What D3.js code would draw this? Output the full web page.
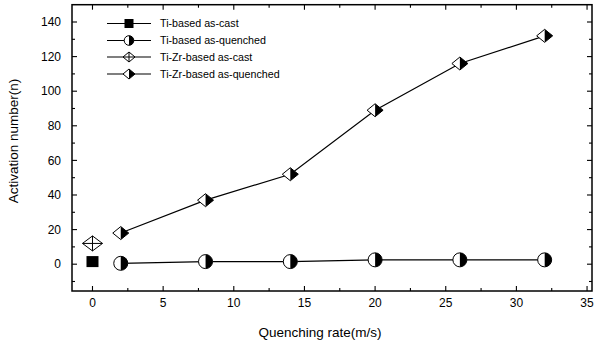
<!DOCTYPE html>
<html><head><meta charset="utf-8">
<script src="https://cdn.jsdelivr.net/npm/d3@7"></script>
<style>body{margin:0;background:#fff}svg{display:block}text{font-family:Arial,"Liberation Sans",sans-serif;fill:#000}</style>
</head><body><svg id="c" width="597" height="346"></svg>
<script>
const seriesNames = ["Ti-based as-cast","Ti-based as-quenched","Ti-Zr-based as-cast","Ti-Zr-based as-quenched"];
const castX = [0];
const tiCast = [1.5];
const tiZrCast = [12];
const quenchX = [2, 8, 14, 20, 26, 32];
const tiQuenched = [0.5, 1.5, 1.5, 2.5, 2.5, 2.5];
const tiZrQuenched = [18, 37, 52, 89, 116, 132];
const xTicks = [0, 5, 10, 15, 20, 25, 30, 35];
const yTicks = [0, 20, 40, 60, 80, 100, 120, 140];
const xMinor = [2.5, 7.5, 12.5, 17.5, 22.5, 27.5, 32.5];
const yMinor = [-10, 10, 30, 50, 70, 90, 110, 130, 150];

const svg = d3.select("#c");
const L = 72, R = 592, T = 4.7, B = 291;
const x = d3.scaleLinear().domain([-1.45, 35.35]).range([L, R]);
const y = d3.scaleLinear().domain([-15.5, 150]).range([B, T]);

// ticks (inward, mirrored)
const g = svg.append("g").attr("stroke", "#000").attr("stroke-width", 1.1);
xTicks.forEach(v => {
  g.append("line").attr("x1", x(v)).attr("x2", x(v)).attr("y1", B).attr("y2", B - 5);
  g.append("line").attr("x1", x(v)).attr("x2", x(v)).attr("y1", T).attr("y2", T + 5);
});
xMinor.filter(v => x(v) > L + 1 && x(v) < R - 1).forEach(v => {
  g.append("line").attr("x1", x(v)).attr("x2", x(v)).attr("y1", B).attr("y2", B - 3);
  g.append("line").attr("x1", x(v)).attr("x2", x(v)).attr("y1", T).attr("y2", T + 3);
});
yTicks.forEach(v => {
  g.append("line").attr("y1", y(v)).attr("y2", y(v)).attr("x1", L).attr("x2", L + 5);
  g.append("line").attr("y1", y(v)).attr("y2", y(v)).attr("x1", R).attr("x2", R - 5);
});
yMinor.filter(v => y(v) > T + 1 && y(v) < B - 1).forEach(v => {
  g.append("line").attr("y1", y(v)).attr("y2", y(v)).attr("x1", L).attr("x2", L + 3);
  g.append("line").attr("y1", y(v)).attr("y2", y(v)).attr("x1", R).attr("x2", R - 3);
});
svg.append("rect").attr("x", L).attr("y", T).attr("width", R - L).attr("height", B - T)
  .attr("fill", "none").attr("stroke", "#000").attr("stroke-width", 1.5);

// tick labels
svg.append("g").selectAll("text").data(xTicks).join("text")
  .attr("x", d => x(d)).attr("y", 307).attr("text-anchor", "middle")
  .attr("font-size", 12).text(d => d);
svg.append("g").selectAll("text").data(yTicks).join("text")
  .attr("x", 61).attr("y", d => y(d) + 4.3).attr("text-anchor", "end")
  .attr("font-size", 12).text(d => d);

// axis titles
svg.append("text").attr("x", 320).attr("y", 337).attr("text-anchor", "middle")
  .attr("font-size", 13.5).text("Quenching rate(m/s)");
svg.append("text").attr("transform", "translate(18,141) rotate(-90)").attr("text-anchor", "middle")
  .attr("font-size", 13.5).text("Activation number(n)");

// marker drawing
function square(sel, cx, cy, w, h) {
  sel.append("rect").attr("x", cx - w / 2).attr("y", cy - h / 2).attr("width", w).attr("height", h)
    .attr("fill", "#000");
}
function halfCircle(sel, cx, cy, r) {
  sel.append("circle").attr("cx", cx).attr("cy", cy).attr("r", r).attr("fill", "#fff").attr("stroke", "#000").attr("stroke-width", 1);
  sel.append("path").attr("d", `M${cx},${cy - r} A${r},${r} 0 0 1 ${cx},${cy + r} Z`).attr("fill", "#000");
}
function crossDiamond(sel, cx, cy, a, b) {
  sel.append("path").attr("d", `M${cx - a},${cy} L${cx},${cy - b} L${cx + a},${cy} L${cx},${cy + b} Z`)
    .attr("fill", "#fff").attr("stroke", "#000").attr("stroke-width", 1);
  sel.append("path").attr("d", `M${cx - a},${cy} H${cx + a} M${cx},${cy - b} V${cy + b}`)
    .attr("stroke", "#000").attr("stroke-width", 1);
}
function halfDiamond(sel, cx, cy, a, b) {
  sel.append("path").attr("d", `M${cx - a},${cy} L${cx},${cy - b} L${cx + a},${cy} L${cx},${cy + b} Z`)
    .attr("fill", "#fff").attr("stroke", "#000").attr("stroke-width", 1);
  sel.append("path").attr("d", `M${cx},${cy - b} L${cx + a},${cy} L${cx},${cy + b} Z`).attr("fill", "#000");
}

const line = d3.line().x(d => x(d[0])).y(d => y(d[1]));
const plot = svg.append("g");
plot.append("path").datum(quenchX.map((v, i) => [v, tiQuenched[i]])).attr("d", line)
  .attr("fill", "none").attr("stroke", "#000").attr("stroke-width", 1.2);
plot.append("path").datum(quenchX.map((v, i) => [v, tiZrQuenched[i]])).attr("d", line)
  .attr("fill", "none").attr("stroke", "#000").attr("stroke-width", 1.2);

castX.forEach((v, i) => square(plot, x(v), y(tiCast[i]), 12, 11));
castX.forEach((v, i) => crossDiamond(plot, x(v), y(tiZrCast[i]), 10, 7.5));
quenchX.forEach((v, i) => halfCircle(plot, x(v), y(tiQuenched[i]), 7));
quenchX.forEach((v, i) => halfDiamond(plot, x(v), y(tiZrQuenched[i]), 8, 6.5));

// legend
const lg = svg.append("g");
const rowsY = [23.5, 40.5, 57, 74];
const drawers = [
  (s, cx, cy) => square(s, cx, cy, 9, 9),
  (s, cx, cy) => halfCircle(s, cx, cy, 4.8),
  (s, cx, cy) => crossDiamond(s, cx, cy, 6, 5),
  (s, cx, cy) => halfDiamond(s, cx, cy, 6, 5)
];
seriesNames.forEach((name, i) => {
  const ry = rowsY[i];
  lg.append("line").attr("x1", 107).attr("x2", 151).attr("y1", ry).attr("y2", ry)
    .attr("stroke", "#000").attr("stroke-width", 1.2);
  drawers[i](lg, 129, ry);
  lg.append("text").attr("x", 160).attr("y", ry + 3.7).attr("font-size", 10.7).text(name);
});
</script></body></html>
